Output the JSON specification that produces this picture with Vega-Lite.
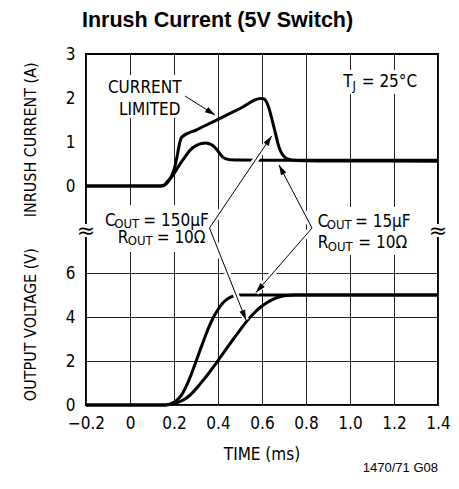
{
  "$schema": "https://vega.github.io/schema/vega-lite/v6.json",
  "width": 352,
  "height": 351,
  "autosize": "none",
  "padding": {"left": 86, "top": 54, "right": 21, "bottom": 84},
  "background": "white",
  "title": {
    "text": "Inrush Current (5V Switch)",
    "anchor": "start",
    "frame": "group",
    "font": "Liberation Sans, Arial, sans-serif",
    "fontSize": 21.5,
    "fontWeight": "bold",
    "color": "black",
    "dx": -4,
    "offset": -3,
    "baseline": "alphabetic"
  },
  "config": {
    "font": "Liberation Sans Narrow, DejaVu Sans Condensed, sans-serif",
    "view": {"stroke": "black", "strokeWidth": 2},
    "axis": {
      "labelFont": "Liberation Sans Narrow, DejaVu Sans Condensed, sans-serif",
      "titleFont": "Liberation Sans Narrow, DejaVu Sans Condensed, sans-serif",
      "labelFontSize": 17,
      "titleFontSize": 16,
      "titleFontWeight": "normal",
      "labelColor": "black",
      "titleColor": "black",
      "grid": true,
      "gridColor": "#222",
      "gridWidth": 1,
      "gridOpacity": 1,
      "domain": false,
      "ticks": false,
      "tickSize": 0,
      "labelFlush": false,
      "labelOverlap": false
    },
    "text": {"font": "Liberation Sans Narrow, DejaVu Sans Condensed, sans-serif", "color": "black"}
  },
  "datasets": {
    "voltage": [
      {"s": "v150", "t": -0.2, "V": 0}, {"s": "v150", "t": 0.1, "V": 0}, {"s": "v150", "t": 0.16, "V": 0},
      {"s": "v150", "t": 0.18, "V": 0.02}, {"s": "v150", "t": 0.2, "V": 0.06}, {"s": "v150", "t": 0.23, "V": 0.17},
      {"s": "v150", "t": 0.26, "V": 0.34}, {"s": "v150", "t": 0.29, "V": 0.62}, {"s": "v150", "t": 0.32, "V": 0.97},
      {"s": "v150", "t": 0.35, "V": 1.34}, {"s": "v150", "t": 0.38, "V": 1.74}, {"s": "v150", "t": 0.41, "V": 2.16},
      {"s": "v150", "t": 0.44, "V": 2.58}, {"s": "v150", "t": 0.47, "V": 3.0}, {"s": "v150", "t": 0.5, "V": 3.4},
      {"s": "v150", "t": 0.53, "V": 3.8}, {"s": "v150", "t": 0.56, "V": 4.14}, {"s": "v150", "t": 0.59, "V": 4.42},
      {"s": "v150", "t": 0.62, "V": 4.64}, {"s": "v150", "t": 0.65, "V": 4.8}, {"s": "v150", "t": 0.68, "V": 4.92},
      {"s": "v150", "t": 0.71, "V": 4.98}, {"s": "v150", "t": 0.75, "V": 5.0}, {"s": "v150", "t": 1.0, "V": 5.0},
      {"s": "v150", "t": 1.4, "V": 5.0},
      {"s": "v15", "t": -0.2, "V": 0}, {"s": "v15", "t": 0.1, "V": 0}, {"s": "v15", "t": 0.16, "V": 0},
      {"s": "v15", "t": 0.18, "V": 0.04}, {"s": "v15", "t": 0.2, "V": 0.12}, {"s": "v15", "t": 0.22, "V": 0.28},
      {"s": "v15", "t": 0.24, "V": 0.55}, {"s": "v15", "t": 0.26, "V": 0.95}, {"s": "v15", "t": 0.28, "V": 1.43},
      {"s": "v15", "t": 0.3, "V": 1.98}, {"s": "v15", "t": 0.32, "V": 2.53}, {"s": "v15", "t": 0.34, "V": 3.07},
      {"s": "v15", "t": 0.36, "V": 3.57}, {"s": "v15", "t": 0.38, "V": 4.0}, {"s": "v15", "t": 0.4, "V": 4.34},
      {"s": "v15", "t": 0.42, "V": 4.61}, {"s": "v15", "t": 0.44, "V": 4.8}, {"s": "v15", "t": 0.46, "V": 4.92},
      {"s": "v15", "t": 0.48, "V": 4.98}, {"s": "v15", "t": 0.5, "V": 5.0}, {"s": "v15", "t": 1.0, "V": 5.0},
      {"s": "v15", "t": 1.4, "V": 5.0}
    ],
    "current": [
      {"s": "c150", "t": -0.2, "A": 0}, {"s": "c150", "t": 0.14, "A": 0}, {"s": "c150", "t": 0.16, "A": 0.03},
      {"s": "c150", "t": 0.18, "A": 0.15}, {"s": "c150", "t": 0.195, "A": 0.3}, {"s": "c150", "t": 0.207, "A": 0.5},
      {"s": "c150", "t": 0.215, "A": 0.7}, {"s": "c150", "t": 0.222, "A": 0.89}, {"s": "c150", "t": 0.228, "A": 1.02},
      {"s": "c150", "t": 0.235, "A": 1.11}, {"s": "c150", "t": 0.3, "A": 1.27}, {"s": "c150", "t": 0.4, "A": 1.516},
      {"s": "c150", "t": 0.5, "A": 1.761}, {"s": "c150", "t": 0.593, "A": 1.99}, {"s": "c150", "t": 0.605, "A": 1.99},
      {"s": "c150", "t": 0.618, "A": 1.93}, {"s": "c150", "t": 0.631, "A": 1.78}, {"s": "c150", "t": 0.646, "A": 1.5},
      {"s": "c150", "t": 0.661, "A": 1.2}, {"s": "c150", "t": 0.677, "A": 0.89}, {"s": "c150", "t": 0.692, "A": 0.72},
      {"s": "c150", "t": 0.705, "A": 0.65}, {"s": "c150", "t": 0.72, "A": 0.61}, {"s": "c150", "t": 0.76, "A": 0.58},
      {"s": "c150", "t": 0.9, "A": 0.57}, {"s": "c150", "t": 1.4, "A": 0.565},
      {"s": "c15", "t": -0.2, "A": 0}, {"s": "c15", "t": 0.14, "A": 0}, {"s": "c15", "t": 0.155, "A": 0.02},
      {"s": "c15", "t": 0.17, "A": 0.1}, {"s": "c15", "t": 0.192, "A": 0.22}, {"s": "c15", "t": 0.21, "A": 0.36},
      {"s": "c15", "t": 0.23, "A": 0.52}, {"s": "c15", "t": 0.25, "A": 0.66}, {"s": "c15", "t": 0.267, "A": 0.78},
      {"s": "c15", "t": 0.285, "A": 0.87}, {"s": "c15", "t": 0.305, "A": 0.93}, {"s": "c15", "t": 0.325, "A": 0.965},
      {"s": "c15", "t": 0.343, "A": 0.975}, {"s": "c15", "t": 0.36, "A": 0.96}, {"s": "c15", "t": 0.373, "A": 0.93},
      {"s": "c15", "t": 0.385, "A": 0.88}, {"s": "c15", "t": 0.396, "A": 0.82}, {"s": "c15", "t": 0.408, "A": 0.74},
      {"s": "c15", "t": 0.419, "A": 0.67}, {"s": "c15", "t": 0.43, "A": 0.63}, {"s": "c15", "t": 0.441, "A": 0.61},
      {"s": "c15", "t": 0.46, "A": 0.595}, {"s": "c15", "t": 0.5, "A": 0.59}, {"s": "c15", "t": 0.7, "A": 0.585},
      {"s": "c15", "t": 1.0, "A": 0.585}, {"s": "c15", "t": 1.4, "A": 0.585}
    ],
    "boxes": [
      {"t": -0.1364, "t2": 0.2545, "A": 2.523, "A2": 1.545},
      {"t": 0.9455, "t2": 1.3227, "A": 2.636, "A2": 2.091},
      {"t": -0.1364, "t2": 0.3682, "A": -0.432, "A2": -1.5},
      {"t": 0.8364, "t2": 1.2909, "A": -0.477, "A2": -1.568},
      {"t": -0.2273, "t2": -0.1727, "A": -0.864, "A2": -1.159},
      {"t": 1.3727, "t2": 1.4273, "A": -0.864, "A2": -1.159}
    ],
    "arrows": [
      {"id": "a1", "t": 0.25, "A": 2.045, "t2": 0.3864, "A2": 1.614},
      {"id": "a2", "t": 0.3614, "A": -0.9545, "t2": 0.6441, "A2": 1.1364},
      {"id": "a3", "t": 0.3614, "A": -0.9545, "t2": 0.5273, "A2": -3.045},
      {"id": "a4", "t": 0.8273, "A": -0.9545, "t2": 0.6773, "A2": 0.4773},
      {"id": "a5", "t": 0.8273, "A": -0.9545, "t2": 0.5727, "A2": -2.4205}
    ],
    "labels": [
      {"k": "main", "txt": "T", "t": 0.9695, "A": 2.25},
      {"k": "main", "txt": "= 25°C", "t": 1.0532, "A": 2.25},
      {"k": "main", "txt": "C", "t": -0.1136, "A": -0.909},
      {"k": "main", "txt": "= 150µF", "t": 0.0605, "A": -0.909},
      {"k": "main", "txt": "R", "t": -0.0559, "A": -1.302},
      {"k": "main", "txt": "= 10Ω", "t": 0.1214, "A": -1.302},
      {"k": "main", "txt": "C", "t": 0.8532, "A": -0.925},
      {"k": "main", "txt": "= 15µF", "t": 1.0227, "A": -0.925},
      {"k": "main", "txt": "R", "t": 0.8532, "A": -1.416},
      {"k": "main", "txt": "= 10Ω", "t": 1.0377, "A": -1.416},
      {"k": "sub", "txt": "J", "t": 1.0114, "A": 2.182},
      {"k": "sub", "txt": "OUT", "t": -0.0714, "A": -0.961},
      {"k": "sub", "txt": "OUT", "t": -0.0105, "A": -1.348},
      {"k": "sub", "txt": "OUT", "t": 0.894, "A": -0.977},
      {"k": "sub", "txt": "OUT", "t": 0.8986, "A": -1.466},
      {"k": "right", "txt": "CURRENT", "t": 0.2341, "A": 2.107},
      {"k": "right", "txt": "LIMITED", "t": 0.2295, "A": 1.614},
      {"k": "brk", "txt": "≈", "t": -0.2, "A": -1.023},
      {"k": "brk", "txt": "≈", "t": 1.4, "A": -1.023},
      {"k": "code", "txt": "1470/71 G08", "t": 1.4, "A": -6.5}
    ]
  },
  "layer": [
    {
      "data": {"name": "voltage"},
      "mark": {"type": "line", "interpolate": "monotone", "strokeWidth": 3, "color": "black"},
      "encoding": {
        "x": {
          "field": "t", "type": "quantitative",
          "scale": {"domain": [-0.2, 1.4], "nice": false, "zero": false},
          "axis": {
            "values": [-0.2, 0, 0.2, 0.4, 0.6, 0.8, 1, 1.2, 1.4],
            "labelExpr": "datum.value == 0 ? '0' : format(datum.value, '.1f')",
            "title": "TIME (ms)",
            "titleFontSize": 17,
            "labelPadding": 10,
            "titleX": 175.5,
            "titleY": 54.5,
            "titleAlign": "center",
            "titleBaseline": "alphabetic"
          }
        },
        "y": {
          "field": "V", "type": "quantitative",
          "scale": {"domain": [0, 15.955], "nice": false, "zero": false},
          "axis": {
            "orient": "left",
            "values": [0, 2, 4, 6],
            "title": "OUTPUT VOLTAGE (V)",
            "labelPadding": 11,
            "titleX": -51,
            "titleY": 270.2,
            "titleAngle": -90,
            "titleAlign": "center",
            "titleBaseline": "alphabetic"
          }
        },
        "detail": {"field": "s", "type": "nominal"}
      }
    },
    {
      "layer": [
        {
          "data": {"name": "current"},
          "mark": {"type": "line", "interpolate": "monotone", "strokeWidth": 3, "color": "black"},
          "encoding": {
            "x": {"field": "t", "type": "quantitative"},
            "y": {
              "field": "A", "type": "quantitative",
              "scale": {"domain": [-4.977, 3], "nice": false, "zero": false},
              "axis": {
                "orient": "left",
                "values": [0, 1, 2, 3],
                "title": "INRUSH CURRENT (A)",
                "labelPadding": 11,
                "titleX": -51,
                "titleY": 85.3,
                "titleAngle": -90,
                "titleAlign": "center",
                "titleBaseline": "alphabetic"
              }
            },
            "detail": {"field": "s", "type": "nominal"}
          }
        },
        {
          "data": {"name": "boxes"},
          "mark": {"type": "rect", "color": "white", "opacity": 1},
          "encoding": {
            "x": {"field": "t", "type": "quantitative"},
            "x2": {"field": "t2"},
            "y": {"field": "A", "type": "quantitative"},
            "y2": {"field": "A2"}
          }
        },
        {
          "data": {"name": "arrows"},
          "mark": {"type": "rule", "color": "white", "strokeWidth": 6},
          "encoding": {
            "x": {"field": "t", "type": "quantitative"},
            "x2": {"field": "t2"},
            "y": {"field": "A", "type": "quantitative"},
            "y2": {"field": "A2"}
          }
        },
        {
          "data": {"name": "arrows"},
          "mark": {"type": "rule", "color": "black", "strokeWidth": 1},
          "encoding": {
            "x": {"field": "t", "type": "quantitative"},
            "x2": {"field": "t2"},
            "y": {"field": "A", "type": "quantitative"},
            "y2": {"field": "A2"}
          }
        },
        {
          "data": {"name": "arrows"},
          "mark": {"type": "point", "shape": "M0,0L-0.6,2L0.6,2Z", "filled": true, "size": 100, "color": "black", "opacity": 1, "strokeWidth": 0},
          "encoding": {
            "x": {"field": "t2", "type": "quantitative"},
            "y": {"field": "A2", "type": "quantitative"},
            "angle": {
              "field": "id", "type": "nominal",
              "scale": {"type": "ordinal", "domain": ["a1", "a2", "a3", "a4", "a5"], "range": [122.3, 34.1, 158.4, -27.7, -139.0]},
              "legend": null
            }
          }
        },
        {
          "data": {"name": "labels"},
          "transform": [{"filter": "datum.k == 'main'"}],
          "mark": {"type": "text", "align": "left", "baseline": "alphabetic", "fontSize": 17},
          "encoding": {
            "x": {"field": "t", "type": "quantitative"},
            "y": {"field": "A", "type": "quantitative"},
            "text": {"field": "txt"}
          }
        },
        {
          "data": {"name": "labels"},
          "transform": [{"filter": "datum.k == 'sub'"}],
          "mark": {"type": "text", "align": "left", "baseline": "alphabetic", "fontSize": 13},
          "encoding": {
            "x": {"field": "t", "type": "quantitative"},
            "y": {"field": "A", "type": "quantitative"},
            "text": {"field": "txt"}
          }
        },
        {
          "data": {"name": "labels"},
          "transform": [{"filter": "datum.k == 'right'"}],
          "mark": {"type": "text", "align": "right", "baseline": "alphabetic", "fontSize": 17},
          "encoding": {
            "x": {"field": "t", "type": "quantitative"},
            "y": {"field": "A", "type": "quantitative"},
            "text": {"field": "txt"}
          }
        },
        {
          "data": {"name": "labels"},
          "transform": [{"filter": "datum.k == 'brk'"}],
          "mark": {"type": "text", "align": "center", "baseline": "middle", "fontSize": 22, "font": "DejaVu Sans"},
          "encoding": {
            "x": {"field": "t", "type": "quantitative"},
            "y": {"field": "A", "type": "quantitative"},
            "text": {"field": "txt"}
          }
        },
        {
          "data": {"name": "labels"},
          "transform": [{"filter": "datum.k == 'code'"}],
          "mark": {"type": "text", "align": "right", "baseline": "alphabetic", "fontSize": 13, "font": "Liberation Sans, Arial, sans-serif"},
          "encoding": {
            "x": {"field": "t", "type": "quantitative"},
            "y": {"field": "A", "type": "quantitative"},
            "text": {"field": "txt"}
          }
        }
      ]
    }
  ],
  "resolve": {"scale": {"y": "independent"}, "axis": {"y": "independent"}}
}
